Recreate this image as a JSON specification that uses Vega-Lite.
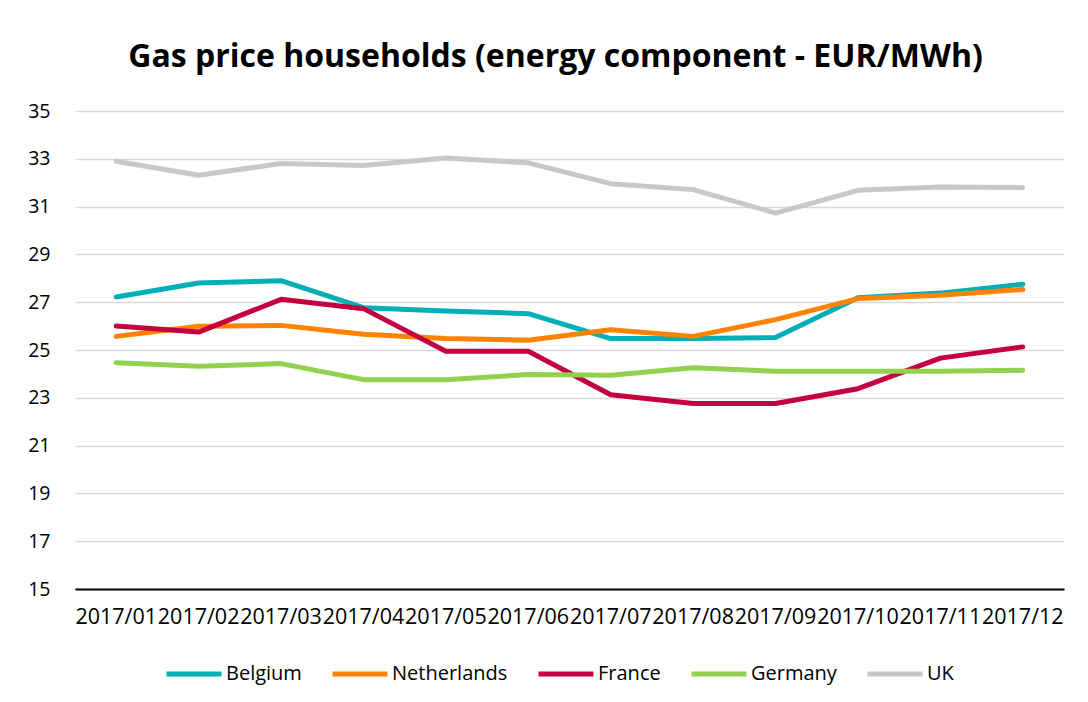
{
  "$schema": "https://vega.github.io/schema/vega-lite/v6.json",
  "width": 989,
  "height": 478,
  "autosize": {"type": "none"},
  "padding": {"left": 75, "top": 111, "right": 24, "bottom": 113},
  "background": "white",
  "title": {
    "text": "Gas price households (energy component - EUR/MWh)",
    "font": "Open Sans",
    "fontSize": 32,
    "fontWeight": "bold",
    "color": "#000000",
    "anchor": "middle",
    "dx": -14,
    "offset": 27
  },
  "data": {
    "values": [
      {"month": "2017/01", "country": "Belgium", "price": 27.22},
      {"month": "2017/02", "country": "Belgium", "price": 27.8},
      {"month": "2017/03", "country": "Belgium", "price": 27.9},
      {"month": "2017/04", "country": "Belgium", "price": 26.77},
      {"month": "2017/05", "country": "Belgium", "price": 26.63},
      {"month": "2017/06", "country": "Belgium", "price": 26.52},
      {"month": "2017/07", "country": "Belgium", "price": 25.48},
      {"month": "2017/08", "country": "Belgium", "price": 25.48},
      {"month": "2017/09", "country": "Belgium", "price": 25.52},
      {"month": "2017/10", "country": "Belgium", "price": 27.19},
      {"month": "2017/11", "country": "Belgium", "price": 27.38},
      {"month": "2017/12", "country": "Belgium", "price": 27.75},
      {"month": "2017/01", "country": "Netherlands", "price": 25.57},
      {"month": "2017/02", "country": "Netherlands", "price": 25.99},
      {"month": "2017/03", "country": "Netherlands", "price": 26.03},
      {"month": "2017/04", "country": "Netherlands", "price": 25.66},
      {"month": "2017/05", "country": "Netherlands", "price": 25.48},
      {"month": "2017/06", "country": "Netherlands", "price": 25.41},
      {"month": "2017/07", "country": "Netherlands", "price": 25.85},
      {"month": "2017/08", "country": "Netherlands", "price": 25.57},
      {"month": "2017/09", "country": "Netherlands", "price": 26.27},
      {"month": "2017/10", "country": "Netherlands", "price": 27.15},
      {"month": "2017/11", "country": "Netherlands", "price": 27.29},
      {"month": "2017/12", "country": "Netherlands", "price": 27.53},
      {"month": "2017/01", "country": "France", "price": 26.0},
      {"month": "2017/02", "country": "France", "price": 25.75},
      {"month": "2017/03", "country": "France", "price": 27.12},
      {"month": "2017/04", "country": "France", "price": 26.73},
      {"month": "2017/05", "country": "France", "price": 24.95},
      {"month": "2017/06", "country": "France", "price": 24.95},
      {"month": "2017/07", "country": "France", "price": 23.13},
      {"month": "2017/08", "country": "France", "price": 22.76},
      {"month": "2017/09", "country": "France", "price": 22.76},
      {"month": "2017/10", "country": "France", "price": 23.38},
      {"month": "2017/11", "country": "France", "price": 24.66},
      {"month": "2017/12", "country": "France", "price": 25.13},
      {"month": "2017/01", "country": "Germany", "price": 24.47},
      {"month": "2017/02", "country": "Germany", "price": 24.32},
      {"month": "2017/03", "country": "Germany", "price": 24.43},
      {"month": "2017/04", "country": "Germany", "price": 23.76},
      {"month": "2017/05", "country": "Germany", "price": 23.76},
      {"month": "2017/06", "country": "Germany", "price": 23.97},
      {"month": "2017/07", "country": "Germany", "price": 23.94},
      {"month": "2017/08", "country": "Germany", "price": 24.26},
      {"month": "2017/09", "country": "Germany", "price": 24.11},
      {"month": "2017/10", "country": "Germany", "price": 24.11},
      {"month": "2017/11", "country": "Germany", "price": 24.11},
      {"month": "2017/12", "country": "Germany", "price": 24.15},
      {"month": "2017/01", "country": "UK", "price": 32.9},
      {"month": "2017/02", "country": "UK", "price": 32.31},
      {"month": "2017/03", "country": "UK", "price": 32.8},
      {"month": "2017/04", "country": "UK", "price": 32.72},
      {"month": "2017/05", "country": "UK", "price": 33.03},
      {"month": "2017/06", "country": "UK", "price": 32.83},
      {"month": "2017/07", "country": "UK", "price": 31.96},
      {"month": "2017/08", "country": "UK", "price": 31.71},
      {"month": "2017/09", "country": "UK", "price": 30.73},
      {"month": "2017/10", "country": "UK", "price": 31.68},
      {"month": "2017/11", "country": "UK", "price": 31.82},
      {"month": "2017/12", "country": "UK", "price": 31.8}
    ]
  },
  "mark": {"type": "line", "strokeWidth": 5, "strokeCap": "round", "strokeJoin": "round"},
  "encoding": {
    "x": {
      "field": "month",
      "type": "ordinal",
      "scale": {"type": "band", "paddingInner": 0, "paddingOuter": 0},
      "axis": {
        "title": null,
        "labelAngle": 0,
        "ticks": false,
        "grid": false,
        "domainColor": "#000000",
        "domainWidth": 2,
        "labelFont": "Open Sans",
        "labelFontSize": 21.5,
        "labelColor": "#000000",
        "labelPadding": 17,
        "labelOverlap": false
      }
    },
    "y": {
      "field": "price",
      "type": "quantitative",
      "scale": {"domain": [15, 35], "nice": false, "zero": false},
      "axis": {
        "title": null,
        "values": [15, 17, 19, 21, 23, 25, 27, 29, 31, 33, 35],
        "domain": false,
        "ticks": false,
        "gridColor": "#D9D9D9",
        "gridWidth": 1.5,
        "labelFont": "Open Sans",
        "labelFontSize": 19.5,
        "labelColor": "#000000",
        "labelPadding": 25
      }
    },
    "color": {
      "field": "country",
      "type": "nominal",
      "sort": ["Belgium", "Netherlands", "France", "Germany", "UK"],
      "scale": {
        "domain": ["Belgium", "Netherlands", "France", "Germany", "UK"],
        "range": ["#00AFB7", "#FF8200", "#C5003E", "#92D050", "#C8C8C6"]
      },
      "legend": {
        "title": null,
        "orient": "none",
        "direction": "horizontal",
        "legendX": 89,
        "legendY": 533,
        "symbolType": "stroke",
        "symbolSize": 3025,
        "symbolStrokeWidth": 5,
        "labelFont": "Open Sans",
        "labelFontSize": 20,
        "labelColor": "#000000",
        "labelOffset": 2,
        "columnPadding": 20
      }
    }
  },
  "config": {"view": {"stroke": null}}
}
